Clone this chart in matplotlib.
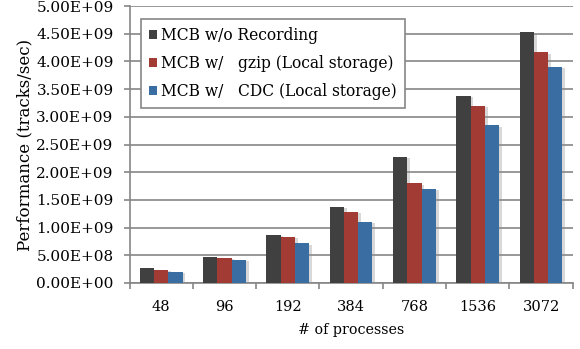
import matplotlib
matplotlib.use("Agg")
import matplotlib.pyplot as plt
import matplotlib.patheffects as pe
import numpy as np

categories = ["48", "96", "192", "384", "768", "1536", "3072"]
no_recording = [2.62e8, 4.75e8, 8.66e8, 1.377e9, 2.28e9, 3.38e9, 4.525e9]
gzip_local = [2.35e8, 4.50e8, 8.36e8, 1.287e9, 1.80e9, 3.20e9, 4.165e9]
cdc_local = [2.00e8, 4.15e8, 7.20e8, 1.107e9, 1.70e9, 2.846e9, 3.90e9]
series_labels = ["MCB w/o Recording", "MCB w/   gzip (Local storage)", "MCB w/   CDC (Local storage)"]
colors = ["#404040", "#A23B33", "#3A6EA3"]
yticks = np.arange(0, 5.01e9, 5e8)

plt.rcParams['font.family'] = ['DejaVu Serif']

fig = plt.figure(figsize=(5.8, 3.49), dpi=100)
ax = fig.add_axes([129.5/580, 1-283/349, (572.7-129.5)/580, (283-6)/349])

x = np.arange(len(categories))
w = 0.225
shadow = [pe.SimplePatchShadow(offset=(2, -1), shadow_rgbFace="#909090", alpha=0.35), pe.Normal()]
for i, (vals, lab, c) in enumerate(zip([no_recording, gzip_local, cdc_local], series_labels, colors)):
    bars = ax.bar(x + (i - 1) * w, vals, w, color=c, label=lab, zorder=3)
    for b in bars:
        b.set_path_effects(shadow)

ax.set_xlim(-0.5, len(categories) - 0.5)
ax.set_ylim(0, 5e9)
ax.set_yticks(yticks)
ax.set_yticklabels([f"{v:.2E}" for v in yticks], fontsize=11)
ax.set_xticks(x)
ax.set_xticklabels(categories, fontsize=10.5)
ax.set_xticks(np.arange(-0.5, len(categories)), minor=True)
ax.tick_params(axis='x', which='major', length=0, pad=12)
ax.tick_params(axis='x', which='minor', length=4, color="#868686", width=1.2)
ax.tick_params(axis='y', length=4.5, color="#868686", width=1.2, pad=7)
ax.yaxis.grid(True, color="#868686", linewidth=1.2, zorder=0)
ax.set_axisbelow(True)
for s in ["top", "right"]:
    ax.spines[s].set_visible(False)
for s in ["left", "bottom"]:
    ax.spines[s].set_color("#868686")
    ax.spines[s].set_linewidth(1.2)

ax.set_ylabel("Performance (tracks/sec)", fontsize=12, labelpad=2)
ax.set_xlabel("# of processes", fontsize=10.3, labelpad=7)

leg = ax.legend(loc="upper left", bbox_to_anchor=(11.5/443, (283-19)/277), fontsize=11.2,
                frameon=True, fancybox=False, edgecolor="#868686", framealpha=1,
                borderaxespad=0,
                handlelength=0.5, handleheight=0.5, handletextpad=0.3, borderpad=0.5,
                labelspacing=0.72)
leg.get_frame().set_linewidth(1.2)
for h in leg.legend_handles:
    h.set_path_effects([])

fig.savefig("out.png", dpi=100)
